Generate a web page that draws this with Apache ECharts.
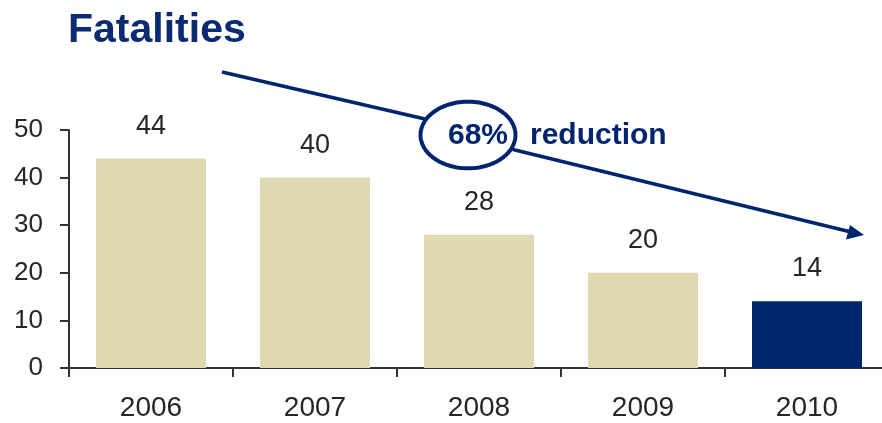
<!DOCTYPE html>
<html>
<head>
<meta charset="utf-8">
<script src="https://cdn.jsdelivr.net/npm/echarts@6/dist/echarts.min.js"></script>
<style>
  html, body { margin: 0; padding: 0; background: #fff; }
  #chart { width: 882px; height: 423px; }
</style>
</head>
<body>
<div id="chart"></div>
<script>
// Yearly fatalities, 2006-2010
const years = ['2006', '2007', '2008', '2009', '2010'];
const fatalities = [44, 40, 28, 20, 14];
const yTicks = [0, 10, 20, 30, 40, 50];

const KHAKI = '#E0D8B0';
const NAVY = '#00256F';
const TEXT = '#262626';
const FONT = '"Liberation Sans", Arial, sans-serif';

// highlight the latest year
const barData = fatalities.map((v, i) => ({
  value: v,
  itemStyle: { color: i === fatalities.length - 1 ? NAVY : KHAKI }
}));

// ellipse outline around the percentage callout
const ellipsePts = [];
for (let k = 0; k < 96; k++) {
  const a = (k / 96) * Math.PI * 2;
  ellipsePts.push([468 + 47.5 * Math.cos(a), 135 + 33.3 * Math.sin(a)]);
}

const chart = echarts.init(document.getElementById('chart'), null, { renderer: 'canvas' });
chart.setOption({
  animation: false,
  backgroundColor: '#fff',
  title: {
    text: 'Fatalities',
    left: 63,
    top: 5,
    textStyle: { fontFamily: FONT, fontSize: 41, fontWeight: 'bold', color: '#0A2A72' }
  },
  // the plot runs a little past the right edge of the page
  grid: { left: 69, right: -7, top: 130, bottom: 55, containLabel: false, outerBoundsMode: 'none' },
  xAxis: {
    type: 'category',
    data: years,
    axisLine: { lineStyle: { color: '#333', width: 2 } },
    axisTick: { show: true, length: 9, alignWithLabel: false, lineStyle: { color: '#333', width: 2 } },
    axisLabel: { margin: 26, fontFamily: FONT, fontSize: 28, color: TEXT },
    splitLine: { show: false }
  },
  yAxis: {
    type: 'value',
    min: yTicks[0],
    max: yTicks[yTicks.length - 1],
    interval: yTicks[1] - yTicks[0],
    axisLine: { show: true, lineStyle: { color: '#333', width: 2 } },
    axisTick: { show: true, length: 9, lineStyle: { color: '#333', width: 2 } },
    axisLabel: { margin: 26, fontFamily: FONT, fontSize: 26, color: TEXT },
    splitLine: { show: false }
  },
  series: [{
    type: 'bar',
    data: barData,
    barWidth: 110,
    label: {
      show: true,
      position: 'top',
      distance: 19,
      fontFamily: FONT,
      fontSize: 27,
      color: TEXT
    }
  }],
  graphic: [
    {
      type: 'polyline',
      z: 10,
      shape: { points: [[222, 72], [425, 119], [515, 150], [851, 232]] },
      style: { stroke: NAVY, lineWidth: 3.5, fill: null }
    },
    {
      type: 'polygon',
      z: 11,
      shape: { points: [[864, 235], [846, 239.5], [850, 225]] },
      style: { fill: NAVY }
    },
    {
      type: 'polygon',
      z: 12,
      shape: { points: ellipsePts },
      style: { fill: '#fff', stroke: NAVY, lineWidth: 4 }
    },
    {
      type: 'text',
      z: 13,
      left: 448,
      top: 121,
      style: { text: '68%', font: 'bold 30px ' + FONT, fill: NAVY }
    },
    {
      type: 'text',
      z: 13,
      left: 530,
      top: 121,
      style: { text: 'reduction', font: 'bold 30px ' + FONT, fill: NAVY }
    }
  ]
});
</script>
</body>
</html>
